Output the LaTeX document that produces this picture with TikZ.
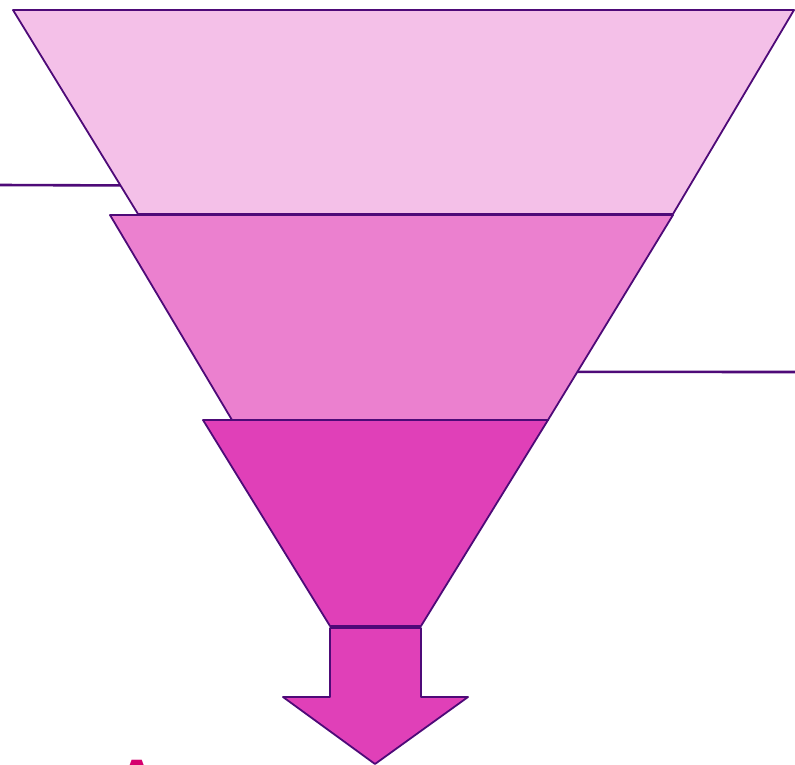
\documentclass[tikz,border=0pt]{standalone}
\usepackage{fontspec}
\setsansfont{Liberation Sans}
\usepackage{tikz}
\usetikzlibrary{calc}
\usepackage{xcolor}

\definecolor{edgepurple}{HTML}{4E0A78}
\definecolor{pinkA}{HTML}{F4C0E8}
\definecolor{pinkB}{HTML}{EB80CF}
\definecolor{pinkC}{HTML}{E040B8}
\definecolor{crimson}{HTML}{D6006E}

\begin{document}
\begin{tikzpicture}[x=1pt, y=-1pt, line join=round,
  layer/.style={draw=edgepurple, line width=1.8pt},
  leader/.style={draw=edgepurple, line width=2.6pt}]
  \useasboundingbox (0,0) rectangle (795,764);

  \coordinate (TL1) at (13,10);
  \coordinate (TR1) at (794,10);
  \coordinate (BL1) at (138,214);
  \coordinate (BR1) at (673,214);

  \coordinate (TL2) at (110,215);
  \coordinate (TR2) at (673,215);
  \coordinate (BL2) at (232,420);
  \coordinate (BR2) at (548,420);

  \coordinate (TL3) at (203,420);
  \coordinate (TR3) at (548,420);
  \coordinate (BL3) at (330,626);
  \coordinate (BR3) at (421,626);

  % leader lines
  \draw[leader] (0,185) -- ($(TL1)!0.86!(BL1)$);
  \draw[leader] ($(TR2)!0.765!(BR2)$) -- (795,372);

  \draw[layer, fill=pinkA] (TL1) -- (TR1) -- (BR1) -- (BL1) -- cycle;
  \draw[layer, fill=pinkB] (TL2) -- (TR2) -- (BR2) -- (BL2) -- cycle;
  \draw[layer, fill=pinkC] (TL3) -- (TR3) -- (BR3) -- (BL3) -- cycle;

  % arrow out of the funnel
  \draw[layer, fill=pinkC] (330,628) -- (421,628) -- (421,697) -- (468,697)
    -- (375,764) -- (283,697) -- (330,697) -- cycle;

  \node[anchor=north, inner sep=0pt, text=crimson, font=\sffamily\bfseries\fontsize{60}{62}\selectfont]
    (mark) at (137,760) {A};
\end{tikzpicture}
\end{document}
